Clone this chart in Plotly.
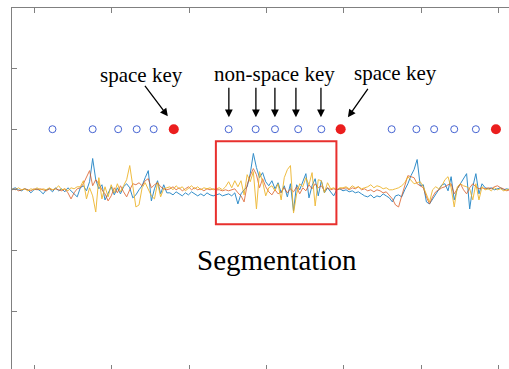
import numpy as np
import plotly.graph_objects as go

# ---- data ----
t_start = 0.71
t_step = 0.04
blue = [1, 2, 0, -1, 1, 0, -3, 0, 1, -1, -4, 0, 1, -2, 2, -1, 1, -2, 2, -1, -3, -7,
        2, 4, -1, 8, 31, 10, 1, 5, -10, -3, 3, -5, 2, -4, 3, 6, 2, -8, -5, 0, 4, 12, 19, -11, 1, 9, -4, 5, -3,
        -3, -5, -2, -4, -6, -3, -5, -2, -4, -6, -4, -6, -3, -5, -6, -5, -4, -6, -5, -4, -6, -3, -14,
        -4, 0, 3, 16, 36, 22, 12, 17, 8, 4, 9, 1, 7, -3, 4, -7, 6, -21, 5, 0, 8, 16, -8, 4, 11, -6, 9, -3, 2, -2, -6, 0, 1,
        -1, 0, -2, -1, -3, -2, -4, -6, -7, -5, -8, -6, -7, -4, -6, -8,
        -12, -6, -5, -7, 0, 6, 14, 20, 30, 4, 5, -12, -14, -9, -4, 1, 5, 6, -1, 13, -10, 1, 6, 12, 16, -19, 3, 16, -4, 6, 2,
        1, 2, 0, 1, 2, 0, 1, 0]
red = [0, 1, -1, 0, 1, 0, -1, 1, 0, 1, 0, -1, 1, 0, 1, 0, -1, 1, -3, -9, -3, 1,
       2, 6, 12, 19, 4, 10, 6, 0, -4, -11, -6, 2, -3, 4, -2, -7, 0, 6, 5, 7, 4, 9, 11, 2, 5, 7, 3, 1, 0,
       1, 3, 0, 2, -1, 1, 3, 0, 2, 0, 1, -1, 1, 0, 1, 0, 0, -1, 0, -1, 0, 1, -3,
       -6, -12, 5, 14, 21, 15, 2, 11, 3, -2, -5, 0, -4, -2, 2, -3, 1, -2, 3, -4, 2, -1, 5, 1, 6, 2, 4, -1, 2, 0, 1, 0, 1,
       1, 2, 0, 2, 1, 3, 0, 1, -1, 0, -2, 0, -1, -3, -2, -6,
       -9, -15, -17, -6, 4, 14, 13, 12, 6, 4, 2, -7, -14, -7, -2, 0, 2, 3, 5, 6, -4, 1, 6, 0, -4, 2, 6, 3, 1, 2, 1,
       2, 1, 3, 4, 2, 1, -1, 0]
yellow = [1, 0, 2, 0, 1, -1, 1, 0, 2, 0, 1, 0, 2, 0, 1, 4, 0, 1, -1, 2, 1, 3,
          3, 9, -9, 2, -6, -22, 12, -9, 3, -7, 5, -3, 6, -2, 4, 10, 24, 2, -17, -15, 2, 7, 1, -6, -9, 7, -7, 1, 2,
          3, 0, 4, 1, 3, -1, 2, 4, 1, 3, 0, 2, 1, 2, 0, 1, 2, 0, 3, 8, 2, 9, 3,
          9, -5, 15, 8, 18, -19, 18, 8, -6, 2, 4, -1, 6, -10, 12, 20, 24, -23, -4, 6, 3, 12, 5, 17, -16, 10, 9, -3, 7, 1, 2, 0, 2,
          2, 3, 1, 4, 2, 3, 1, 2, 3, 5, 2, 4, 3, 1, 2, 0,
          0, 1, 2, 4, 7, 13, 9, 6, 7, 8, 3, -4, -12, 0, 3, 1, 4, 10, 13, 2, -17, 3, 6, 4, 3, 1, -10, 6, -10, 3, 0,
          1, -1, 2, 0, 1, -1, 0, 1]

space_t = [2.80, 4.96, 6.97]
nonspace_t = [1.23, 1.75, 2.08, 2.32, 2.54,
              3.51, 3.86, 4.11, 4.41, 4.71,
              5.62, 5.94, 6.17, 6.43, 6.71]
key_level = 60

seg_t = [3.345, 4.905]
seg_y = [-34, 48]

x_ticks = [1, 2, 3, 4, 5, 6, 7]
y_ticks = [-120, -60, 0, 60, 120]
x_range = [0.706, 7.139]
y_range = [-177.4, 180]

n = len(blue)
t = t_start + t_step * np.arange(n)

fig = go.Figure()
fig.add_trace(go.Scatter(x=t, y=blue, mode="lines", line=dict(color="#0072BD", width=1), opacity=0.8, showlegend=False))
fig.add_trace(go.Scatter(x=t, y=red, mode="lines", line=dict(color="#D95319", width=1), opacity=0.75, showlegend=False))
fig.add_trace(go.Scatter(x=t, y=yellow, mode="lines", line=dict(color="#EDB120", width=1), opacity=0.85, showlegend=False))

fig.add_trace(go.Scatter(x=nonspace_t, y=[key_level] * len(nonspace_t), mode="markers",
                         marker=dict(symbol="circle-open", size=7, color="rgb(70,100,210)", line=dict(width=1)),
                         showlegend=False))
fig.add_trace(go.Scatter(x=space_t, y=[key_level] * len(space_t), mode="markers",
                         marker=dict(symbol="circle", size=10, color="rgb(235,30,30)"),
                         showlegend=False))
# invisible trace for top axis
fig.add_trace(go.Scatter(x=[x_range[0]], y=[0], xaxis="x2", mode="markers",
                         marker=dict(opacity=0), showlegend=False, hoverinfo="skip"))

fig.add_shape(type="rect", xref="x", yref="y", x0=seg_t[0], x1=seg_t[1], y0=seg_y[0], y1=seg_y[1],
              line=dict(color="rgb(232,48,46)", width=2))

serif = "Liberation Serif, Times New Roman, serif"
ann = []
ann.append(dict(x=2.38, y=113.4, text="space key", showarrow=False, font=dict(family=serif, size=21, color="black")))
ann.append(dict(x=4.109, y=114.4, text="non-space key", showarrow=False, font=dict(family=serif, size=21, color="black")))
ann.append(dict(x=5.676, y=115.3, text="space key", showarrow=False, font=dict(family=serif, size=21, color="black")))
ann.append(dict(x=4.141, y=-69.3, text="Segmentation", showarrow=False, font=dict(family=serif, size=29, color="black")))

arrow_style = dict(showarrow=True, text="", arrowhead=2, arrowsize=1.2, arrowwidth=1.3, arrowcolor="black")
ann.append(dict(x=2.723, y=72.8, ax=-24, ay=-32, **arrow_style))
for xv in [3.513, 3.863, 4.109, 4.381, 4.705]:
    ann.append(dict(x=xv, y=71.8, ax=0, ay=-31, **arrow_style))
ann.append(dict(x=5.054, y=71.8, ax=21, ay=-30, **arrow_style))

axis_gray = "#808080"
fig.update_layout(
    width=509, height=369,
    margin=dict(l=12, r=0, t=8, b=0),
    paper_bgcolor="white", plot_bgcolor="white",
    annotations=ann,
    xaxis=dict(range=x_range, tickvals=x_ticks, ticks="inside", ticklen=4, tickcolor=axis_gray,
               showticklabels=False, showgrid=False, zeroline=False, showline=False),
    xaxis2=dict(range=x_range, overlaying="x", side="top", tickvals=x_ticks, ticks="inside", ticklen=5,
                tickcolor=axis_gray, showticklabels=False, showgrid=False, zeroline=False,
                showline=True, linecolor=axis_gray, linewidth=1),
    yaxis=dict(range=y_range, tickvals=y_ticks, ticks="inside", ticklen=5, tickcolor=axis_gray,
               showticklabels=False, showgrid=False, zeroline=False, showline=True,
               linecolor=axis_gray, linewidth=1),
)
fig.write_html("out.html")
